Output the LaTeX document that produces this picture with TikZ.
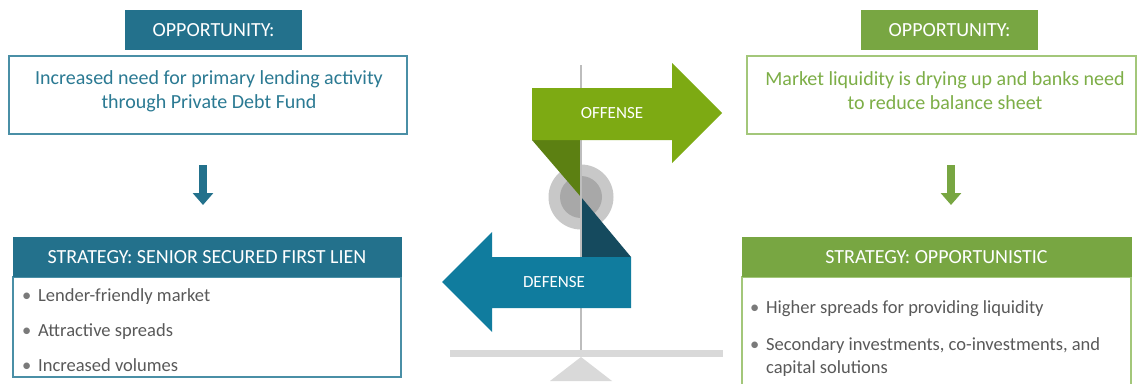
\documentclass[tikz,border=0pt]{standalone}
\usepackage{fontspec}
\setmainfont{Carlito}
\usetikzlibrary{arrows.meta,calc}
\definecolor{tealhdr}{HTML}{23718C}
\definecolor{tealtxt}{HTML}{2B7A93}
\definecolor{tealbrd}{HTML}{4A8FA6}
\definecolor{defcol}{HTML}{107C9E}
\definecolor{defdark}{HTML}{154A5E}
\definecolor{greenhdr}{HTML}{78A642}
\definecolor{greenbrd}{HTML}{A3C77A}
\definecolor{greentxt}{HTML}{7DAE47}
\definecolor{offcol}{HTML}{7DAA13}
\definecolor{offdark}{HTML}{5C8012}
\definecolor{circout}{HTML}{C8C8C8}
\definecolor{circin}{HTML}{A8A8A8}
\definecolor{axisgray}{HTML}{BDBDBD}
\definecolor{beamgray}{HTML}{D9D9D9}
\definecolor{bullettxt}{HTML}{595959}
\tikzset{
  hdr/.style={inner sep=0pt, text=white, font=\fontsize{20}{24}\selectfont, minimum height=40pt},
  oppbox/.style={draw, line width=1.2pt, inner sep=0pt},
  opptxt/.style={inner sep=0pt, align=center, font=\fontsize{20}{24}\selectfont},
  bodybox/.style={draw, line width=1.2pt, inner sep=0pt},
  bul/.style={anchor=base west, inner sep=0pt, text=bullettxt, font=\fontsize{18.5}{22}\selectfont},
  dot/.style={anchor=base west, inner sep=0pt, text=bullettxt!80, font=\fontsize{18.5}{22}\selectfont},
  downarr/.style={line width=8pt, -{Triangle[width=20pt,length=12pt]}},
  bigtxt/.style={text=white, inner sep=0pt, font=\fontsize{17}{20}\selectfont}
}
\begin{document}
\begin{tikzpicture}[x=1pt,y=-1pt]
\clip (0,0) rectangle (1138,383);
\fill[white] (0,0) rectangle (1138,383);

% ---------- left column ----------
\node[hdr, fill=tealhdr, minimum width=177pt] (oppL) at (213.5,30) {OPPORTUNITY:};
\node[oppbox, draw=tealbrd, minimum width=398pt, minimum height=78pt] (boxL) at (208,95) {};
\node[opptxt, text=tealtxt] (boxLtxt) at (209,91)
  {Increased need for primary lending activity\\through Private Debt Fund};
\coordinate (aL1) at (203,165);
\coordinate (aL2) at (203,205);
\draw[downarr, draw=tealhdr, fill=tealhdr] (aL1) -- (aL2);
\node[bodybox, draw=tealbrd, minimum width=388pt, minimum height=100pt] (bodyL) at (207,327) {};
\node[hdr, fill=tealhdr, minimum width=389pt] (stratL) at (207,257) {STRATEGY: SENIOR SECURED FIRST LIEN};
\node[dot] (dL1) at (22,301) {•};
\node[bul] (tL1) at (38,301) {Lender-friendly market};
\node[dot] (dL2) at (22,336) {•};
\node[bul] (tL2) at (38,336) {Attractive spreads};
\node[dot] (dL3) at (22,371) {•};
\node[bul] (tL3) at (38,371) {Increased volumes};

% ---------- right column ----------
\node[hdr, fill=greenhdr, minimum width=177pt] (oppR) at (949.5,30) {OPPORTUNITY:};
\node[oppbox, draw=greenbrd, minimum width=389pt, minimum height=78pt] (boxR) at (941.5,95) {};
\node[opptxt, text=greentxt] (boxRtxt) at (945,91)
  {Market liquidity is drying up and banks need\\to reduce balance sheet};
\coordinate (aR1) at (951,165);
\coordinate (aR2) at (951,205);
\draw[downarr, draw=greenhdr, fill=greenhdr] (aR1) -- (aR2);
\node[bodybox, draw=greenbrd, minimum width=389pt, minimum height=140pt] (bodyR) at (936.5,347) {};
\node[hdr, fill=greenhdr, minimum width=390pt] (stratR) at (936.5,257) {STRATEGY: OPPORTUNISTIC};
\node[dot] (dR1) at (750,313) {•};
\node[bul] (tR1) at (766,313) {Higher spreads for providing liquidity};
\node[dot] (dR2) at (750,350) {•};
\node[bul] (tR2) at (766,350) {Secondary investments, co-investments, and};
\node[bul] (tR3) at (766,373) {capital solutions};

% ---------- centre balance ----------
\fill[circout] (581,197) circle[radius=32.5];
\fill[circin] (581,197) circle[radius=21];
\fill[offdark] (532,140) -- (581,140) -- (581,197) -- cycle;
\fill[defdark] (581,197) -- (581,257) -- (631,257) -- cycle;
\coordinate (axTop) at (581,65);
\coordinate (axBot) at (581,353);
\draw[axisgray, line width=2pt] (axTop) -- (axBot);
% offense arrow
\fill[offcol] (532,88) -- (672,88) -- (672,63) -- (722,113) -- (672,163) -- (672,140) -- (532,140) -- cycle;
\node[bigtxt] (off) at (612,113) {OFFENSE};
% defense arrow
\fill[defcol] (631,257) -- (492,257) -- (492,232) -- (442,282) -- (492,332) -- (492,308) -- (631,308) -- cycle;
\node[bigtxt] (def) at (554,282) {DEFENSE};
% beam and fulcrum
\fill[beamgray] (450,350) rectangle (723,357);
\fill[beamgray] (581,357) -- (612,381) -- (550,381) -- cycle;
\end{tikzpicture}
\end{document}
